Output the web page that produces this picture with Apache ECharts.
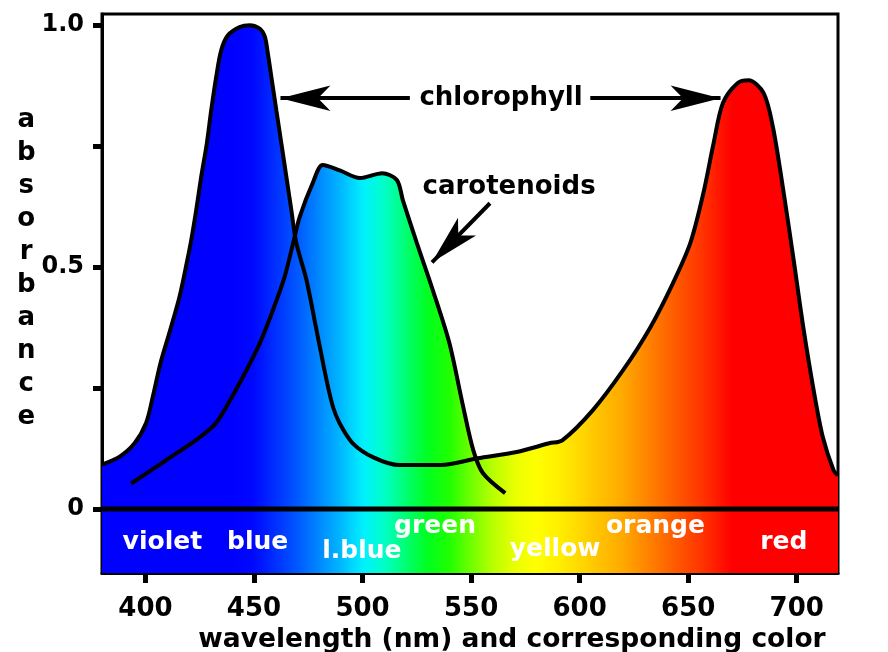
<!DOCTYPE html>
<html>
<head>
<meta charset="utf-8">
<script src="https://cdn.jsdelivr.net/npm/echarts@6/dist/echarts.min.js"></script>
<style>html,body{margin:0;padding:0;background:#fff}#c{width:888px;height:652px}</style>
</head>
<body>
<div id="c"></div>
<script>
// Chlorophyll absorbance (wavelength nm, absorbance)
const chlWavelength = [380,388,395,400.3,403.4,406.9,411.4,415.7,419,421.1,423.4,425.7,428.3,430.3,432.6,434.9,438,443.4,448,452.6,455,456.4,458,460.3,462.6,464.9,467.2,469.5,474.2,478.8,483.4,486.4,489.5,495.5,505,517,536,553,571,586,592,606,620,632.6,643,651,657,661.7,666,672.7,677.8,684.7,689,694,698.6,703,708,712,717,719];
const chlAbsorbance = [0.092,0.108,0.136,0.178,0.232,0.301,0.37,0.439,0.508,0.556,0.618,0.687,0.756,0.824,0.893,0.948,0.979,0.996,1.0,0.993,0.976,0.941,0.893,0.824,0.756,0.687,0.618,0.55,0.473,0.37,0.267,0.211,0.177,0.136,0.107,0.091,0.091,0.105,0.118,0.136,0.142,0.204,0.287,0.376,0.467,0.55,0.653,0.756,0.839,0.88,0.886,0.86,0.79,0.653,0.514,0.376,0.24,0.149,0.08,0.07];
// Carotenoids absorbance
const carWavelength = [393.4,409.5,423.4,431.8,437.2,444.9,452.6,458.7,464.1,468,471,477,481.7,489.5,498.8,509,515.8,518.6,525,532.4,540,546,551,555.5,565.7];
const carAbsorbance = [0.053,0.101,0.143,0.174,0.211,0.273,0.342,0.411,0.48,0.549,0.603,0.673,0.711,0.70,0.684,0.694,0.68,0.638,0.55,0.452,0.343,0.219,0.122,0.074,0.033];
// Tick values
const xTicks = [400,450,500,550,600,650,700];
const yTicks = [0,0.25,0.5,0.75,1];
const yLabels = [0,0.5,1];
// Color band labels
const bandNames = ['violet','blue','l.blue','green','yellow','orange','red'];
const bandX = [407.8,451.7,499.7,533.4,588.7,634.9,694];
const bandY = [-0.070,-0.070,-0.087,-0.035,-0.083,-0.035,-0.070];
// Annotations
const noteNames = ['chlorophyll','carotenoids'];
const noteX = [563.8,567.5];
const noteY = [0.849,0.665];
// Spectrum colours, 380..720 nm every 10 nm
const spectrum = ['#0000ff','#0000ff','#0000ff','#0000ff','#0000ff','#0000ff','#0000ff','#0008ff','#0030ff','#0058ff','#0088ff','#00b8ff','#00f0ff','#00ffc8','#00ff70','#00ff20','#20ff00','#70ff00','#b8ff00','#e8ff00','#ffff00','#fff000','#ffd800','#ffc000','#ffa800','#ff8800','#ff6800','#ff4800','#ff2800','#ff0000','#ff0000','#ff0000','#ff0000','#ff0000','#ff0000'];

const FONT = 'DejaVu Sans';
const chlData = chlWavelength.map((x,i)=>[x,chlAbsorbance[i]]);
const carData = carWavelength.map((x,i)=>[x,carAbsorbance[i]]);
const bandData = [[380,0],[719,0]];
const bandLabelData = bandNames.map((n,i)=>[bandX[i],bandY[i],n]);
const noteData = noteNames.map((n,i)=>[noteX[i],noteY[i],n]);

const chart = echarts.init(document.getElementById('c'));
chart.setOption({
  animation:false,
  backgroundColor:'#fff',
  grid:{left:102,right:50,top:14,bottom:79,containLabel:false,outerBoundsMode:'none',show:true,borderColor:'#000',borderWidth:3,backgroundColor:'transparent'},
  visualMap:{type:'continuous',show:false,dimension:0,min:380,max:720,seriesIndex:[0,1,2],inRange:{color:spectrum}},
  xAxis:{type:'value',min:380,max:719,
    axisLine:{show:true,onZero:false,lineStyle:{color:'#000',width:3}},
    axisTick:{show:true,customValues:xTicks,length:10,lineStyle:{color:'#000',width:5}},
    axisLabel:{customValues:xTicks,margin:23,color:'#000',fontFamily:FONT,fontWeight:'bold',fontSize:26},
    splitLine:{show:false},
    name:'{pad| }wavelength (nm) and corresponding color',nameLocation:'middle',nameGap:43,
    nameTextStyle:{color:'#000',fontFamily:FONT,fontWeight:'bold',fontSize:26.5,
      rich:{pad:{width:84,fontSize:26.5,fontFamily:FONT,fontWeight:'bold'}}}
  },
  yAxis:{type:'value',min:-0.132,max:1.023,
    axisLine:{show:true,lineStyle:{color:'#000',width:3}},
    axisTick:{show:true,customValues:yTicks,length:9,lineStyle:{color:'#000',width:5}},
    axisLabel:{customValues:yLabels,margin:18,color:'#000',fontFamily:FONT,fontWeight:'bold',fontSize:24,
      formatter:v=>v===1?'1.0':(v===0?'0':String(v))},
    splitLine:{show:false},
    name:'a\nb\ns\no\nr\nb\na\nn\nc\ne\n{s| }',nameLocation:'middle',nameRotate:0,nameGap:72,
    nameTextStyle:{color:'#000',fontFamily:FONT,fontWeight:'bold',fontSize:26,lineHeight:33,align:'center',
      rich:{s:{lineHeight:50,fontSize:10}}}
  },
  series:[
    {type:'line',data:bandData,showSymbol:false,lineStyle:{width:0},areaStyle:{opacity:1,origin:'start'},z:1},
    {type:'line',data:chlData,showSymbol:false,smooth:0.3,lineStyle:{width:0},areaStyle:{opacity:1},z:2},
    {type:'line',data:carData,showSymbol:false,smooth:0.3,lineStyle:{width:0},areaStyle:{opacity:1},z:2},
    {type:'line',data:bandData,showSymbol:false,lineStyle:{color:'#000',width:5},z:5,silent:true},
    {type:'line',data:chlData,showSymbol:false,smooth:0.3,lineStyle:{color:'#000',width:4},z:6,
      markLine:{silent:true,symbol:['none','arrow'],symbolSize:[19,50],label:{show:false},
        lineStyle:{color:'#000',width:4,type:'solid'},
        data:[
          [{coord:[521.8,0.849]},{coord:[462.2,0.849]}],
          [{coord:[604.9,0.849]},{coord:[664.9,0.849]}],
          [{coord:[558.7,0.632]},{coord:[532,0.51]}]
        ]}},
    {type:'line',data:carData,showSymbol:false,smooth:0.3,lineStyle:{color:'#000',width:4},z:6},
    {type:'scatter',data:bandLabelData,symbolSize:1,itemStyle:{color:'rgba(0,0,0,0)',opacity:1},z:8,silent:true,
      label:{show:true,position:'inside',formatter:p=>p.data[2],color:'#fff',opacity:1,fontFamily:FONT,fontWeight:'bold',fontSize:25}},
    {type:'scatter',data:noteData,symbolSize:1,itemStyle:{color:'rgba(0,0,0,0)',opacity:1},z:8,silent:true,
      label:{show:true,position:'inside',formatter:p=>p.data[2],color:'#000',opacity:1,fontFamily:FONT,fontWeight:'bold',fontSize:26}}
  ]
});
</script>
</body>
</html>
